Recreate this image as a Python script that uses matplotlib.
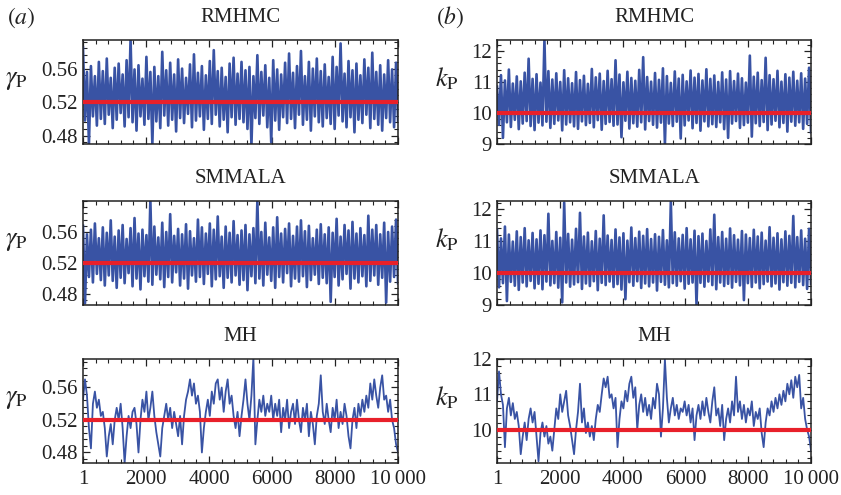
import matplotlib
matplotlib.use("Agg")
import matplotlib.pyplot as plt
import numpy as np
from matplotlib.ticker import FixedLocator, MultipleLocator, AutoMinorLocator

plt.rcParams["font.family"] = "Liberation Serif"
plt.rcParams["mathtext.fontset"] = "stix"

# ------------------------------------------------------------------------------
# Trace data (thinned to ~160 points per chain)
# ------------------------------------------------------------------------------
N_SAMPLES = 10000
GAMMA_TRUE = 0.52
K_TRUE = 10.0

rmhmc_gamma = [
    0.585, 0.498, 0.556, 0.470, 0.563, 0.503, 0.551, 0.492, 0.568, 0.500,
    0.557, 0.494, 0.572, 0.505, 0.549, 0.489, 0.561, 0.499, 0.566, 0.507,
    0.553, 0.491, 0.570, 0.502, 0.595, 0.496, 0.559, 0.486, 0.564, 0.503,
    0.548, 0.493, 0.574, 0.500, 0.556, 0.470, 0.562, 0.497, 0.551, 0.489,
    0.580, 0.504, 0.558, 0.492, 0.567, 0.499, 0.553, 0.485, 0.571, 0.501,
    0.560, 0.495, 0.549, 0.506, 0.565, 0.490, 0.577, 0.498, 0.555, 0.503,
    0.563, 0.487, 0.552, 0.500, 0.569, 0.494, 0.582, 0.505, 0.557, 0.491,
    0.561, 0.499, 0.550, 0.484, 0.566, 0.502, 0.573, 0.493, 0.554, 0.500,
    0.568, 0.496, 0.558, 0.488, 0.562, 0.468, 0.551, 0.501, 0.576, 0.494,
    0.556, 0.504, 0.564, 0.490, 0.549, 0.472, 0.570, 0.498, 0.559, 0.487,
    0.553, 0.502, 0.567, 0.495, 0.578, 0.500, 0.555, 0.489, 0.563, 0.505,
    0.581, 0.493, 0.551, 0.499, 0.568, 0.486, 0.560, 0.503, 0.572, 0.496,
    0.557, 0.491, 0.565, 0.501, 0.550, 0.494, 0.574, 0.488, 0.562, 0.504,
    0.590, 0.497, 0.554, 0.490, 0.569, 0.502, 0.558, 0.484, 0.566, 0.499,
    0.552, 0.495, 0.571, 0.505, 0.561, 0.489, 0.579, 0.500, 0.556, 0.493,
    0.564, 0.486, 0.553, 0.501, 0.570, 0.496, 0.559, 0.490, 0.567, 0.498,
]

smmala_gamma = [
    0.568, 0.468, 0.557, 0.502, 0.563, 0.495, 0.571, 0.506, 0.552, 0.498,
    0.566, 0.491, 0.559, 0.504, 0.575, 0.497, 0.554, 0.488, 0.562, 0.501,
    0.569, 0.494, 0.551, 0.507, 0.565, 0.490, 0.578, 0.500, 0.558, 0.486,
    0.563, 0.503, 0.556, 0.496, 0.601, 0.492, 0.567, 0.505, 0.553, 0.499,
    0.572, 0.489, 0.560, 0.502, 0.583, 0.495, 0.555, 0.508, 0.564, 0.491,
    0.557, 0.500, 0.570, 0.487, 0.561, 0.504, 0.552, 0.496, 0.576, 0.502,
    0.566, 0.493, 0.558, 0.506, 0.571, 0.490, 0.563, 0.499, 0.580, 0.503,
    0.554, 0.488, 0.567, 0.501, 0.559, 0.495, 0.574, 0.504, 0.556, 0.492,
    0.562, 0.498, 0.569, 0.485, 0.557, 0.503, 0.565, 0.494, 0.600, 0.500,
    0.560, 0.491, 0.572, 0.505, 0.553, 0.497, 0.566, 0.488, 0.579, 0.502,
    0.558, 0.495, 0.564, 0.507, 0.571, 0.490, 0.555, 0.500, 0.567, 0.496,
    0.575, 0.503, 0.561, 0.489, 0.568, 0.498, 0.552, 0.505, 0.563, 0.493,
    0.570, 0.501, 0.557, 0.494, 0.566, 0.470, 0.559, 0.502, 0.577, 0.491,
    0.554, 0.499, 0.569, 0.506, 0.562, 0.487, 0.573, 0.500, 0.558, 0.495,
    0.565, 0.503, 0.556, 0.490, 0.581, 0.497, 0.563, 0.504, 0.569, 0.492,
    0.557, 0.501, 0.572, 0.469, 0.560, 0.496, 0.567, 0.502, 0.576, 0.494,
]

mh_gamma = [
    0.545, 0.570, 0.550, 0.510, 0.485, 0.540, 0.555, 0.535, 0.545, 0.525,
    0.530, 0.510, 0.475, 0.500, 0.515, 0.490, 0.520, 0.535, 0.520, 0.540,
    0.510, 0.467, 0.500, 0.525, 0.510, 0.530, 0.535, 0.515, 0.480, 0.520,
    0.545, 0.530, 0.555, 0.520, 0.535, 0.555, 0.525, 0.505, 0.490, 0.475,
    0.510, 0.525, 0.540, 0.520, 0.535, 0.510, 0.530, 0.515, 0.500, 0.525,
    0.490, 0.525, 0.545, 0.555, 0.570, 0.550, 0.565, 0.540, 0.550, 0.530,
    0.480, 0.510, 0.530, 0.545, 0.525, 0.555, 0.540, 0.565, 0.570, 0.545,
    0.560, 0.530, 0.555, 0.570, 0.540, 0.550, 0.525, 0.510, 0.530, 0.500,
    0.525, 0.545, 0.570, 0.540, 0.520, 0.550, 0.597, 0.490, 0.520, 0.545,
    0.530, 0.550, 0.525, 0.540, 0.530, 0.550, 0.520, 0.540, 0.525, 0.545,
    0.505, 0.535, 0.520, 0.545, 0.510, 0.530, 0.540, 0.515, 0.545, 0.520,
    0.505, 0.535, 0.520, 0.540, 0.500, 0.530, 0.515, 0.490, 0.525, 0.540,
    0.575, 0.530, 0.515, 0.540, 0.520, 0.505, 0.535, 0.520, 0.545, 0.510,
    0.530, 0.515, 0.540, 0.525, 0.500, 0.485, 0.520, 0.535, 0.510, 0.540,
    0.525, 0.545, 0.530, 0.550, 0.535, 0.565, 0.545, 0.570, 0.550, 0.535,
    0.560, 0.575, 0.545, 0.550, 0.530, 0.545, 0.520, 0.510, 0.490, 0.480,
]

rmhmc_k = [
    10.85, 9.62, 11.22, 9.20, 11.05, 9.70, 11.40, 9.55, 10.95, 9.78,
    11.18, 9.48, 11.02, 9.66, 11.30, 9.74, 11.75, 9.58, 11.10, 9.45,
    11.25, 9.69, 10.98, 9.60, 12.35, 9.72, 11.35, 9.52, 11.08, 9.65,
    11.28, 9.76, 11.00, 9.44, 11.38, 9.63, 11.12, 9.70, 10.96, 9.57,
    11.32, 9.49, 11.06, 9.73, 11.20, 9.61, 10.94, 9.68, 11.42, 9.54,
    11.15, 9.77, 11.27, 9.46, 11.03, 9.65, 11.36, 9.71, 11.09, 9.59,
    11.70, 9.63, 11.24, 9.22, 10.99, 9.75, 11.33, 9.50, 11.13, 9.67,
    11.04, 9.56, 11.39, 9.70, 11.80, 9.47, 11.16, 9.74, 11.01, 9.62,
    11.29, 9.53, 11.07, 9.69, 11.44, 9.00, 11.19, 9.66, 10.97, 9.58,
    11.34, 9.72, 11.11, 9.18, 11.23, 9.60, 11.02, 9.76, 11.37, 9.51,
    11.14, 9.68, 11.26, 9.43, 11.05, 9.73, 11.41, 9.57, 11.10, 9.64,
    11.21, 9.55, 11.00, 9.70, 11.31, 9.48, 11.08, 9.20, 11.35, 9.66,
    11.03, 9.74, 11.27, 9.52, 11.12, 9.61, 10.98, 9.69, 11.85, 9.24,
    11.17, 9.67, 11.30, 9.58, 11.06, 9.71, 11.78, 9.45, 11.22, 9.63,
    11.09, 9.75, 11.36, 9.54, 11.01, 9.68, 11.25, 9.40, 11.14, 9.72,
    11.33, 9.59, 11.04, 9.70, 11.28, 9.49, 11.11, 9.65, 11.46, 9.38,
]

smmala_k = [
    11.35, 9.55, 11.08, 9.68, 11.45, 9.12, 11.20, 9.72, 10.98, 9.60,
    11.30, 9.47, 11.12, 9.70, 11.40, 9.58, 11.02, 9.75, 11.25, 9.52,
    11.05, 9.66, 11.33, 9.49, 11.18, 9.73, 11.85, 9.61, 11.00, 9.68,
    11.28, 9.54, 11.10, 9.08, 12.20, 9.70, 11.22, 9.57, 11.04, 9.64,
    11.38, 9.71, 11.88, 9.50, 11.14, 9.67, 11.26, 9.59, 10.99, 9.74,
    11.31, 9.46, 11.07, 9.69, 11.80, 9.62, 11.17, 9.73, 11.03, 9.56,
    11.36, 9.65, 11.11, 9.48, 11.24, 9.18, 11.01, 9.71, 11.42, 9.60,
    11.09, 9.74, 11.29, 9.53, 11.16, 9.67, 11.37, 9.58, 11.06, 9.70,
    11.21, 9.45, 11.13, 9.72, 11.34, 9.63, 11.02, 9.55, 12.22, 9.68,
    11.27, 9.60, 11.08, 9.74, 11.19, 9.51, 11.40, 9.66, 11.05, 9.70,
    11.32, 9.00, 11.15, 9.69, 11.23, 9.57, 11.00, 9.73, 11.36, 9.62,
    11.82, 9.49, 11.12, 9.70, 11.28, 9.59, 11.07, 9.66, 11.39, 9.54,
    11.18, 9.72, 11.04, 9.61, 11.31, 9.15, 11.20, 9.68, 11.09, 9.56,
    11.35, 9.70, 11.14, 9.52, 11.26, 9.65, 11.01, 9.73, 11.43, 9.58,
    11.10, 9.67, 11.24, 9.48, 11.05, 9.71, 11.30, 9.60, 11.16, 9.69,
    11.78, 9.55, 11.12, 9.72, 11.33, 9.62, 11.07, 9.50, 11.38, 9.66,
]

mh_k = [
    10.80, 11.65, 11.00, 10.70, 9.50, 10.60, 10.90, 10.40, 10.75, 10.30,
    10.50, 10.10, 9.30, 9.80, 10.20, 9.70, 10.30, 10.60, 10.20, 10.50,
    9.80, 9.10, 9.90, 10.20, 9.80, 10.10, 9.60, 9.80, 9.40, 10.00,
    10.60, 10.30, 11.00, 10.50, 10.80, 11.10, 10.40, 10.10, 9.70, 9.30,
    10.00, 10.50, 11.30, 10.20, 10.60, 9.90, 10.20, 9.80, 10.10, 9.70,
    10.30, 10.70, 10.50, 11.00, 11.45, 11.20, 11.50, 10.90, 11.00, 10.60,
    10.90, 9.50, 10.30, 10.80, 10.60, 11.10, 10.80, 11.30, 11.50, 10.90,
    11.20, 10.00, 10.70, 11.00, 10.50, 10.90, 10.40, 10.70, 10.30, 10.90,
    10.60, 11.30, 11.00, 9.80, 10.60, 12.00, 10.90, 10.20, 10.60, 10.90,
    10.40, 10.70, 10.30, 10.60, 10.50, 10.80, 10.40, 10.70, 10.20, 10.60,
    9.70, 10.40, 10.70, 10.30, 10.80, 10.40, 10.90, 10.50, 10.20, 10.80,
    11.20, 10.40, 10.60, 10.10, 10.70, 9.70, 10.30, 10.60, 10.20, 10.80,
    10.40, 11.50, 10.50, 10.80, 10.30, 10.70, 10.20, 10.60, 10.40, 10.80,
    10.10, 10.50, 10.30, 10.60, 9.90, 9.50, 10.20, 10.60, 10.40, 10.80,
    10.50, 10.90, 10.60, 11.00, 10.70, 11.10, 10.80, 11.30, 11.00, 11.40,
    10.90, 11.50, 11.20, 11.55, 10.60, 10.90, 10.30, 10.00, 9.80, 9.40,
]

SAMPLERS = ["RMHMC", "SMMALA", "MH"]
GAMMA_TRACES = [rmhmc_gamma, smmala_gamma, mh_gamma]
K_TRACES = [rmhmc_k, smmala_k, mh_k]

GAMMA_YLIMS = [(0.47, 0.594), (0.466, 0.600), (0.467, 0.595)]
K_YLIMS = [(9.0, 12.35), (9.0, 12.25), (9.05, 12.0)]
GAMMA_TICKS = [0.48, 0.52, 0.56]
K_TICKS = [[9, 10, 11, 12], [9, 10, 11, 12], [10, 11, 12]]
X_TICKS = [1, 2000, 4000, 6000, 8000, 10000]
X_TICKLABELS = ["1", "2000", "4000", "6000", "8000", "10\u2009000"]

BLUE = "#3953a4"
RED = "#e8202a"
INK = "#222222"

# ------------------------------------------------------------------------------
# Figure
# ------------------------------------------------------------------------------
fig = plt.figure(figsize=(8.41, 4.95), dpi=100)

col_x = [0.0987, 0.591]
col_w = [0.3746, 0.3734]
row_y = [0.709, 0.384, 0.0646]
row_h = 0.210


def style_axis(ax, show_xlabels):
    for sp in ax.spines.values():
        sp.set_linewidth(1.1)
        sp.set_color(INK)
    ax.set_xlim(1, N_SAMPLES)
    ax.xaxis.set_major_locator(FixedLocator(X_TICKS))
    ax.xaxis.set_minor_locator(MultipleLocator(400))
    ax.yaxis.set_minor_locator(AutoMinorLocator(5))
    ax.tick_params(which="both", direction="in", top=True, right=True,
                   colors=INK, labelsize=15, labelcolor=INK)
    ax.tick_params(which="major", length=5, width=0.9)
    ax.tick_params(which="minor", length=3, width=0.8)
    if show_xlabels:
        ax.set_xticklabels(X_TICKLABELS)
        ax.tick_params(axis="x", pad=5)
    else:
        ax.set_xticklabels([])


for col, (traces, ylims, truth) in enumerate(
    [(GAMMA_TRACES, GAMMA_YLIMS, GAMMA_TRUE), (K_TRACES, K_YLIMS, K_TRUE)]
):
    for row, name in enumerate(SAMPLERS):
        ax = fig.add_axes([col_x[col], row_y[row], col_w[col], row_h])
        vals = np.asarray(traces[row])
        xs = np.linspace(1, N_SAMPLES, len(vals))
        # dense chains need a heavier stroke so the band reads as solid
        lw = 1.3 if name == "MH" else 1.9
        ax.plot(xs, vals, color=BLUE, linewidth=lw, zorder=2)
        ax.axhline(truth, color=RED, linewidth=3.0, zorder=3)
        ax.set_ylim(*ylims[row])
        style_axis(ax, show_xlabels=(row == 2))

        if col == 0:
            ax.set_yticks(GAMMA_TICKS)
            ax.set_yticklabels([f"{t:.2f}" for t in GAMMA_TICKS])
            ax.set_ylabel(r"$\gamma_{\mathrm{P}}$", fontsize=19, rotation=0,
                          color=INK)
            ax.yaxis.set_label_coords(-0.21, 0.5)
        else:
            ax.set_yticks(K_TICKS[row])
            ax.set_yticklabels([str(t) for t in K_TICKS[row]])
            ax.set_ylabel(r"$k_{\mathrm{P}}$", fontsize=19, rotation=0,
                          color=INK)
            ax.yaxis.set_label_coords(-0.16, 0.5)

        ax.set_title(name, fontsize=15, pad=13, color=INK)

# Panel labels
fig.text(0.008, 0.965, r"$(\mathit{a})$", fontsize=17, va="center", color=INK)
fig.text(0.518, 0.965, r"$(\mathit{b})$", fontsize=17, va="center", color=INK)

fig.savefig("out.png", dpi=100)
